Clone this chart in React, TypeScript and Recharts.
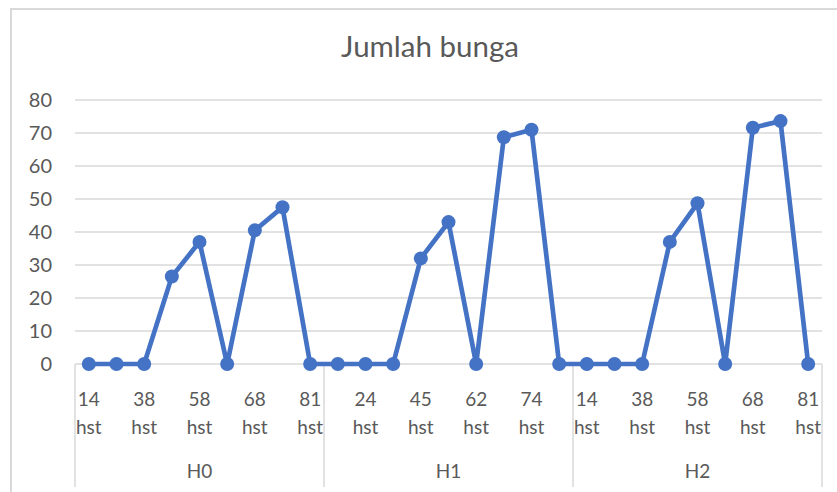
import { LineChart, Line, XAxis, YAxis, CartesianGrid, ReferenceLine } from "recharts";

const days = ["14", "24", "38", "45", "58", "62", "68", "74", "81"];
const groups = ["H0", "H1", "H2"];
const h0Values = [0, 0, 0, 26.5, 37, 0, 40.5, 47.5, 0];
const h1Values = [0, 0, 0, 32, 43, 0, 68.7, 71, 0];
const h2Values = [0, 0, 0, 37, 48.7, 0, 71.6, 73.6, 0];
const yTicks = [0, 10, 20, 30, 40, 50, 60, 70, 80];

const seriesByGroup = [h0Values, h1Values, h2Values];

const data = groups.flatMap((g, gi) =>
  days.map((d, di) => ({ key: `${g}-${d}`, day: d, group: g, value: seriesByGroup[gi][di] }))
);

const FONT = "Lato, 'Open Sans', sans-serif";
const TEXT = "#595959";
const GRID = "#d9d9d9";
const BLUE = "#4472C4";

function DayTick(props: any) {
  const { x, y, payload } = props;
  const day = String(payload.value).split("-")[1];
  return (
    <text x={x} y={y} textAnchor="middle" fontFamily={FONT} fontSize={19} fill={TEXT}>
      <tspan x={x} dy={40}>{day}</tspan>
      <tspan x={x} dy={28}>hst</tspan>
    </text>
  );
}

function GroupTick(props: any) {
  const { x, y, payload } = props;
  const [group, day] = String(payload.value).split("-");
  if (day !== days[4]) return <g />;
  return (
    <text x={x} y={y + 32} textAnchor="middle" fontFamily={FONT} fontSize={19} fill={TEXT}>
      {group}
    </text>
  );
}

// group separators hang below the plot, from the zero line down
function SeparatorShape(props: any) {
  const { x1, y1, y2 } = props;
  const bottom = Math.max(y1, y2);
  return <line x1={x1} x2={x1} y1={bottom} y2={bottom + 123} stroke={GRID} strokeWidth={1.5} />;
}

export default function App() {
  return (
    <div style={{ position: "absolute", left: 0, top: 0, width: 837, height: 492, overflow: "hidden", background: "#fff" }}>
      <div
        style={{
          position: "absolute",
          left: 10,
          top: 8,
          width: 900,
          height: 600,
          borderLeft: `2px solid ${GRID}`,
          borderTop: `2px solid ${GRID}`,
        }}
      />
      <div
        style={{
          position: "absolute",
          left: 230,
          top: 28,
          width: 400,
          textAlign: "center",
          fontFamily: FONT,
          fontSize: 29.5,
          color: TEXT,
          lineHeight: "36px",
        }}
      >
        Jumlah bunga
      </div>
      <div style={{ position: "absolute", left: 0, top: 0 }}>
        <LineChart width={837} height={492} data={data} margin={{ top: 100, right: 15, left: 15, bottom: 4 }}>
          <CartesianGrid vertical={false} stroke={GRID} strokeWidth={1.5} />
          <XAxis
            dataKey="key"
            scale="band"
            interval={1}
            tick={<DayTick />}
            tickLine={false}
            tickSize={0}
            axisLine={false}
            height={80}
          />
          <XAxis
            xAxisId="grp"
            dataKey="key"
            scale="band"
            interval={0}
            tick={<GroupTick />}
            tickLine={false}
            tickSize={0}
            axisLine={false}
            height={44}
          />
          <YAxis
            domain={[0, 80]}
            ticks={yTicks}
            width={60}
            tickLine={false}
            axisLine={false}
            tickMargin={17}
            tick={{ fontFamily: FONT, fontSize: 20, fill: TEXT }}
          />
          <ReferenceLine x="H0-14" position="start" shape={<SeparatorShape />} />
          <ReferenceLine x="H1-14" position="start" shape={<SeparatorShape />} />
          <ReferenceLine x="H2-14" position="start" shape={<SeparatorShape />} />
          <ReferenceLine x="H2-81" position="end" shape={<SeparatorShape />} />
          <Line
            type="linear"
            dataKey="value"
            stroke={BLUE}
            strokeWidth={4.7}
            dot={{ r: 7, fill: BLUE, stroke: BLUE, strokeWidth: 0 }}
            activeDot={false}
            isAnimationActive={false}
          />
        </LineChart>
      </div>
    </div>
  );
}
